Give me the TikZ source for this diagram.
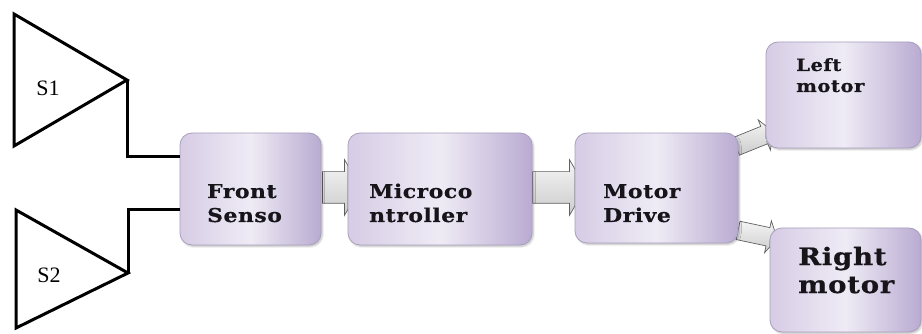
\documentclass[tikz,border=0pt]{standalone}
\usepackage{fontspec}
\setmainfont{Liberation Serif}
\newfontfamily\boxfont{DejaVu Serif}[FakeStretch=1.15, LetterSpace=3, FakeBold=0.6]
\usetikzlibrary{shapes.arrows,shadows.blur}
\definecolor{lavlight}{HTML}{EFEBF5}
\definecolor{lavmid}{HTML}{D6CCE5}
\definecolor{lavdark}{HTML}{B9ABD2}
\definecolor{lavedge}{HTML}{A99FBE}
\definecolor{txt}{HTML}{17141A}
\tikzset{
  blockbox/.style={rounded corners=12pt, draw=lavedge, line width=0.8pt,
    left color=lavmid, right color=lavdark, middle color=lavlight,
    blur shadow={shadow blur steps=5, shadow xshift=1.5pt, shadow yshift=-1.5pt, shadow opacity=25}},
  boxtext/.style={text=txt, align=left, inner sep=0pt},
  sensor/.style={line width=3pt, line join=miter},
  wire/.style={line width=3pt},
  blockarrow/.style={single arrow, draw=gray!75!black, line width=0.7pt,
    top color=gray!8, bottom color=gray!40, inner xsep=0pt, single arrow tip angle=120}
}
\begin{document}
\begin{tikzpicture}[x=1pt,y=-1pt]
\useasboundingbox (0,0) rectangle (922,334);
% block arrows (behind boxes)
\node[blockarrow, inner ysep=15.5pt, minimum height=38pt, single arrow head extend=12pt] (ar1) at (337,187.5) {};
\node[blockarrow, inner ysep=15.5pt, minimum height=53pt, single arrow head extend=12pt] (ar2) at (554.5,187.5) {};
\node[blockarrow, inner ysep=9pt, minimum height=40pt, single arrow head extend=7pt, rotate=22] (ar3) at (752,140) {};
\node[blockarrow, inner ysep=9pt, minimum height=40pt, single arrow head extend=7pt, rotate=-12] (ar4) at (755,234) {};
% boxes
\node[blockbox, minimum width=141pt, minimum height=112pt] (fs) at (250.5,189) {};
\node[blockbox, minimum width=184pt, minimum height=112pt] (mc) at (440,189) {};
\node[blockbox, minimum width=163pt, minimum height=110pt] (md) at (656.5,188) {};
\node[blockbox, minimum width=155pt, minimum height=106pt] (lm) at (843.5,95) {};
\node[blockbox, minimum width=151pt, minimum height=104pt] (rm) at (845.5,280) {};
% box texts (anchor = baseline of last line)
\node[boxtext, font=\boxfont\bfseries\fontsize{19}{24}\selectfont, anchor=base west] (fst) at (207,222) {Front\\Senso};
\node[boxtext, font=\boxfont\bfseries\fontsize{19}{24}\selectfont, anchor=base west] (mct) at (369,222) {Microco\\ntroller};
\node[boxtext, font=\boxfont\bfseries\fontsize{19}{24}\selectfont, anchor=base west] (mdt) at (603,222) {Motor\\Drive};
\node[boxtext, font=\boxfont\bfseries\fontsize{17}{21}\selectfont, anchor=base west] (lmt) at (796,92) {Left\\motor};
\node[boxtext, font=\boxfont\bfseries\fontsize{24}{28}\selectfont, anchor=base west] (rmt) at (798,293) {Right\\motor};
% sensors
\coordinate (a1) at (127,80);
\coordinate (a2) at (128,273);
\draw[sensor] (14,14) -- (a1) -- (14,146) -- cycle;
\draw[sensor] (16,210) -- (a2) -- (16,328) -- cycle;
\node[font=\fontsize{22}{26}\selectfont, inner sep=0pt] (s1) at (48,88) {S1};
\node[font=\fontsize{22}{26}\selectfont, inner sep=0pt] (s2) at (49,275) {S2};
% wires
\draw[wire] (a1) |- ([yshift=32pt]fs.west);
\draw[wire] (a2) |- ([yshift=-21pt]fs.west);
\end{tikzpicture}
\end{document}
